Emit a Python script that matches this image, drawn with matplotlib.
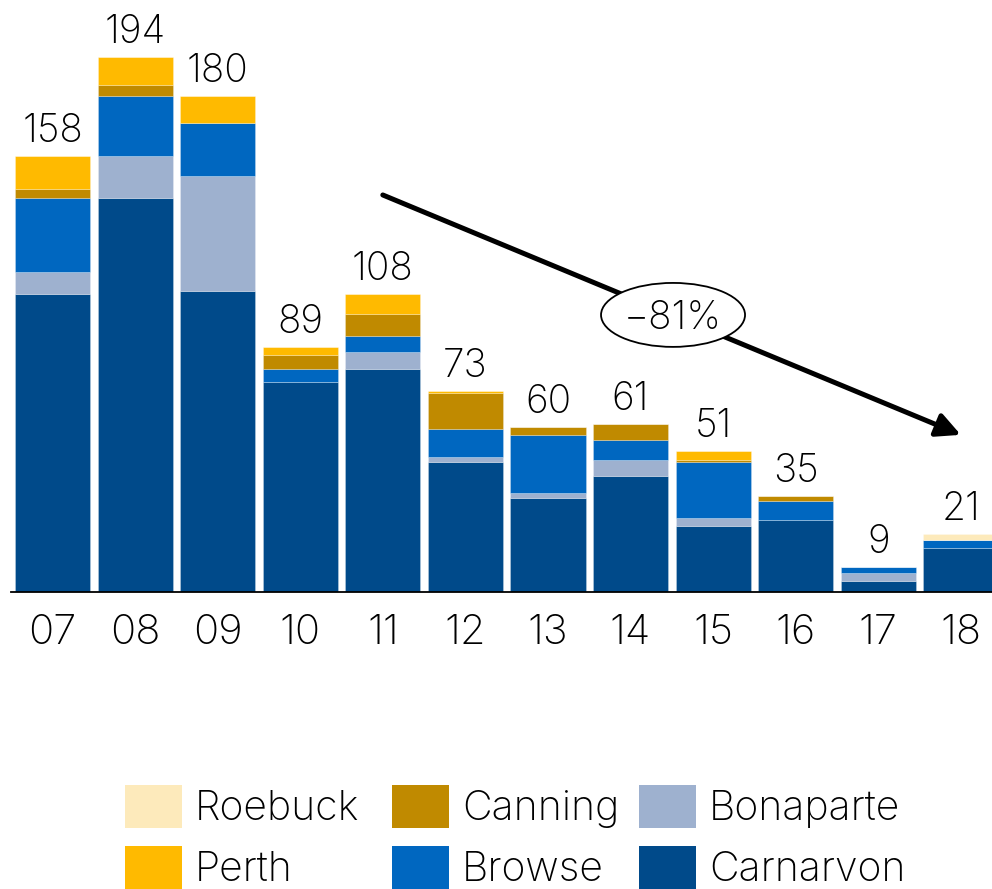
import numpy as np
import matplotlib
matplotlib.use("Agg")
import matplotlib.pyplot as plt
from matplotlib.patches import Ellipse, Patch

plt.rcParams['font.family'] = ['Inter', 'DejaVu Sans']
plt.rcParams['font.weight'] = 'light'

years = ["07", "08", "09", "10", "11", "12", "13", "14", "15", "16", "17", "18"]

# Stacked from the bottom up
carnarvon = [108, 143, 109, 76, 81, 47, 34, 42, 24, 26, 4, 16]
bonaparte = [8, 15, 42, 0, 6, 2, 2, 6, 3, 0, 3, 0]
browse = [27, 22, 19, 5, 6, 10, 21, 7, 20, 7, 2, 3]
canning = [3, 4, 0, 5, 8, 13, 3, 6, 1, 2, 0, 0]
perth = [12, 10, 10, 3, 7, 1, 0, 0, 3, 0, 0, 0]
roebuck = [0, 0, 0, 0, 0, 0, 0, 0, 0, 0, 0, 2]

series = [
    ("Carnarvon", carnarvon, "#004A8A"),
    ("Bonaparte", bonaparte, "#9EB1CF"),
    ("Browse", browse, "#0067C0"),
    ("Canning", canning, "#C08A00"),
    ("Perth", perth, "#FFBA00"),
    ("Roebuck", roebuck, "#FDEABB"),
]

fig = plt.figure(figsize=(9.92, 8.89), dpi=100)
ax = fig.add_axes([11 / 992, 297 / 889, 981 / 992, 579 / 889])

x = np.arange(len(years))
bottom = np.zeros(len(years))
colors = {}
for name, vals, col in series:
    vals = np.array(vals, dtype=float)
    ax.bar(x, vals, width=0.91, bottom=bottom, color=col,
           edgecolor=(1, 1, 1, 0.35), linewidth=0.5, zorder=2)
    bottom += vals
    colors[name] = col

totals = bottom
for xi, t in zip(x, totals):
    ax.annotate(f"{int(round(t))}", (xi, t), xytext=(0, 10), textcoords="offset points",
                ha="center", va="baseline", fontsize=28, color="black")

ax.set_xlim(-0.503, 11.378)
ax.set_ylim(0, 210)
ax.set_xticks(x)
ax.set_xticklabels(years, fontsize=30)
ax.tick_params(axis="x", length=0, pad=16)
ax.set_yticks([])
for s in ["top", "right", "left"]:
    ax.spines[s].set_visible(False)
ax.spines["bottom"].set_linewidth(1.3)
ax.spines["bottom"].set_color("black")
ax.spines["bottom"].set_zorder(3)

# Trend arrow with the percentage badge
ax.annotate("", xy=(11.0, 57), xytext=(4.0, 144),
            arrowprops=dict(arrowstyle="-|>", lw=3.6, color="black",
                            mutation_scale=36, shrinkA=0, shrinkB=0),
            zorder=4, annotation_clip=False)
ax.add_patch(Ellipse((7.515, 100.5), 1.744, 23.2, facecolor="white",
                     edgecolor="black", linewidth=1.3, zorder=5))
ax.text(7.515, 100.5, "\u221281%", ha="center", va="center_baseline",
        fontsize=28, zorder=6)

# Legend laid out as three two-row columns
legend_columns = [(["Roebuck", "Perth"], 125), (["Canning", "Browse"], 392),
                  (["Bonaparte", "Carnarvon"], 639)]
for names, left_px in legend_columns:
    handles = [Patch(facecolor=colors[n], edgecolor="none") for n in names]
    fig.legend(handles, names, ncol=1, loc="lower left",
               bbox_to_anchor=(left_px / 992, 0.0), frameon=False, fontsize=29.5,
               handlelength=1.39, handleheight=1.25, handletextpad=0.32,
               labelspacing=0.42, borderpad=0, borderaxespad=0)

fig.savefig("out.png", dpi=100)
